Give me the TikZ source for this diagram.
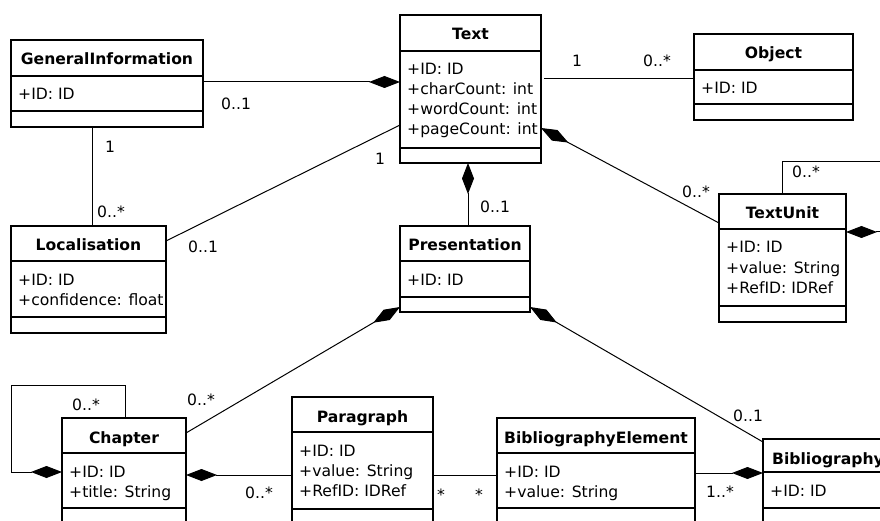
\documentclass[tikz,border=0pt]{standalone}
\usepackage{fontspec}
\setmainfont{DejaVu Sans}
\usetikzlibrary{calc,arrows.meta}
\newcommand{\umlfont}{\fontsize{15.6}{20}\selectfont}
\tikzset{
  classbox/.style={draw, line width=1.2pt, rectangle, anchor=north west, inner sep=0pt, outer sep=0pt},
  divider/.style={line width=1.2pt},
  ctitle/.style={font=\umlfont\bfseries, anchor=base, inner sep=0pt},
  cattr/.style={font=\umlfont, anchor=base west, inner sep=0pt},
  mult/.style={font=\umlfont, anchor=base west, inner sep=0pt},
  assoc/.style={line width=1pt},
  comp/.style={line width=1pt, -{Diamond[length=31pt,width=12pt]}},
}
% #1 name, #2 x, #3 y, #4 width, #5 height, #6 title row, #7 attr row, #8 title, #9 attrs
\newcommand{\umlclass}[9]{%
  \node[classbox, minimum width=#4pt, minimum height=#5pt] (#1) at (#2,#3) {};
  \draw[divider] ($(#1.north west)+(0,#6)$) -- ($(#1.north east)+(0,#6)$);
  \draw[divider] ($(#1.north west)+(0,#6+#7)$) -- ($(#1.north east)+(0,#6+#7)$);
  \node[ctitle] (#1-title) at ($(#1.north)+(0,25)$) {#8};
  \foreach \t [count=\i from 0] in {#9}
    \node[cattr] (#1-attr\i) at ($(#1.north west)+(7,#6+24+20*\i)$) {\t};
}
\begin{document}
\begin{tikzpicture}[x=1pt,y=-1pt]
\useasboundingbox (0,0) rectangle (880,521);
\clip (0,0) rectangle (880,521);
\fill[white] (0,0) rectangle (880,521);

\umlclass{GI}{11}{40}{192}{87}{36}{35}{GeneralInformation}{+ID: ID}
\umlclass{Text}{400}{15}{141}{148}{36}{97}{Text}{+ID: ID,+charCount: int,+wordCount: int,+pageCount: int}
\umlclass{Object}{694}{34}{159}{86}{36}{34}{Object}{+ID: ID}
\umlclass{TextUnit}{719}{194}{127}{128}{35}{77}{TextUnit}{+ID: ID,+value: String,+RefID: IDRef}
\umlclass{Loc}{11}{226}{155}{107}{35}{56}{Localisation}{+ID: ID,+confidence: float}
\umlclass{Pres}{400}{226}{130}{86}{35}{36}{Presentation}{+ID: ID}
\umlclass{Chapter}{62}{418}{124}{130}{35}{55}{Chapter}{+ID: ID,+title: String}
\umlclass{Para}{292}{397}{141}{150}{35}{77}{Paragraph}{+ID: ID,+value: String,+RefID: IDRef}
\umlclass{BibEl}{497}{418}{198}{130}{35}{55}{BibliographyElement}{+ID: ID,+value: String}
\umlclass{Bib}{763}{439}{130}{120}{33}{36}{Bibliography}{+ID: ID}

% connectors
\draw[comp] ($(GI.north east)+(0,42)$) -- ($(Text.north west)+(0,67)$);
\draw[assoc] ($(GI.south west)+(81,0)$) coordinate (gl) -- (gl |- Loc.north);
\draw[assoc] ($(Loc.north east)+(0,15)$) -- ($(Text.north west)+(0,110)$);
\draw[assoc] ($(Text.north east)+(3,64)$) -- ($(Object.north west)+(0,45)$);
\draw[comp] ($(TextUnit.north west)+(0,29)$) -- ($(Text.north east)+(0,113)$);
\draw[comp] ($(TextUnit.north west)+(63,0)$) -- ++(0,-32) -| ($(TextUnit.north east)+(60,38)$) -- ($(TextUnit.north east)+(0,38)$);
\draw[comp] ($(Pres.north west)+(68,0)$) coordinate (pt) -- (pt |- Text.south);
\draw[comp] ($(Chapter.north east)+(0,15)$) -- ($(Pres.south west)+(0,-5)$);
\draw[comp] ($(Bib.north west)+(0,3)$) -- ($(Pres.south east)+(0,-5)$);
\draw[comp] ($(Chapter.north west)+(63,0)$) -- ++(0,-33) -| ($(Chapter.north west)+(-51,54)$) -- ($(Chapter.north west)+(0,54)$);
\draw[comp] ($(Para.north west)+(0,78)$) -- ($(Chapter.north east)+(0,57)$);
\draw[assoc] ($(Para.north east)+(0,78)$) -- ($(BibEl.north west)+(0,57)$);
\draw[comp] ($(BibEl.north east)+(0,55)$) -- ($(Bib.north west)+(0,34)$);

% multiplicities
\node[mult] (m1) at (221,110) {0..1};
\node[mult] (m2) at (105,153) {1};
\node[mult] (m3) at (97,218) {0..*};
\node[mult] (m4) at (188,253) {0..1};
\node[mult] (m5) at (375,165) {1};
\node[mult] (m6) at (572,67) {1};
\node[mult] (m7) at (643,67) {0..*};
\node[mult] (m8) at (682,198) {0..*};
\node[mult] (m9) at (792,178) {0..*};
\node[mult] (m10) at (480,213) {0..1};
\node[mult] (m11) at (187,405) {0..*};
\node[mult] (m12) at (72,410) {0..*};
\node[mult] (m13) at (245,498) {0..*};
\node[mult] (m14) at (437,500) {*};
\node[mult] (m15) at (475,500) {*};
\node[mult] (m16) at (733,421) {0..1};
\node[mult] (m17) at (706,497) {1..*};
\end{tikzpicture}
\end{document}
